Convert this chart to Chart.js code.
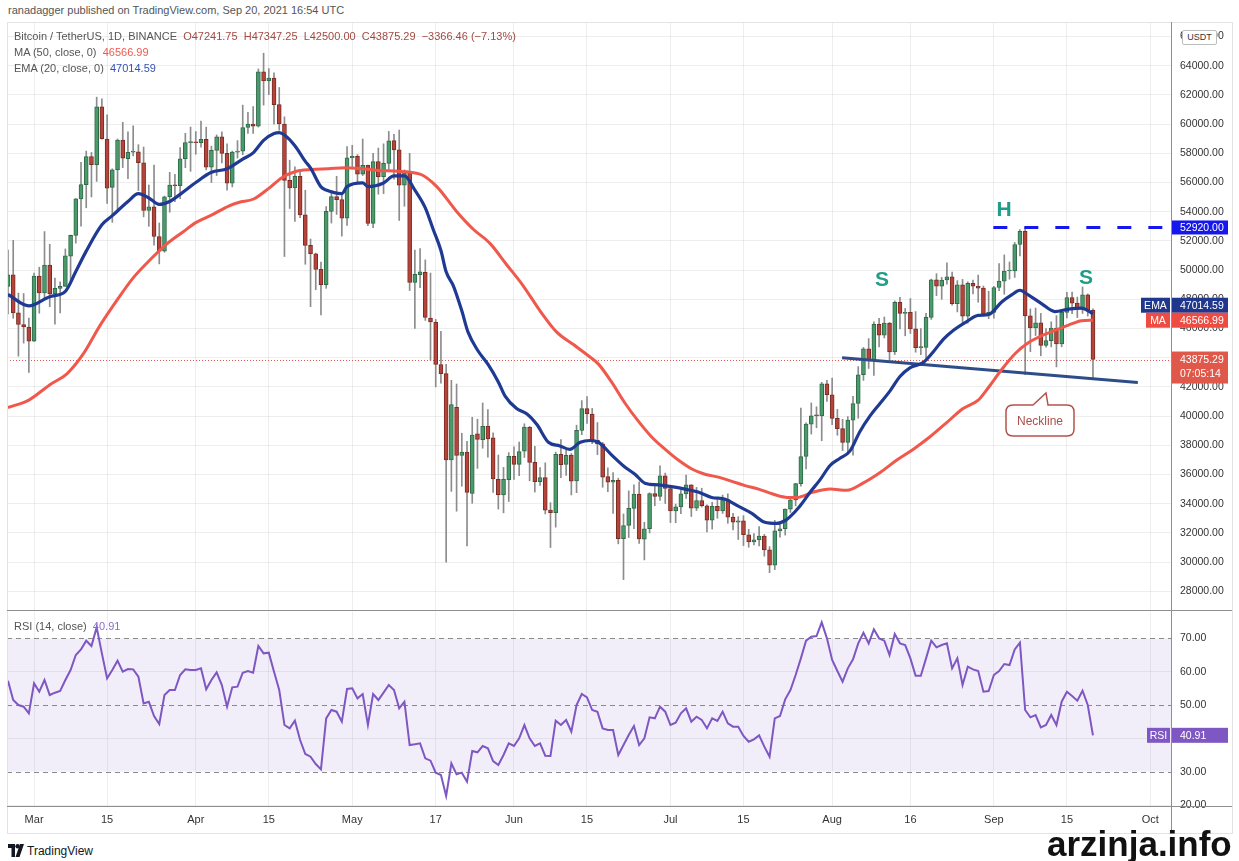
<!DOCTYPE html>
<html>
<head>
<meta charset="utf-8">
<title>BTCUSDT 1D</title>
<script src="https://cdn.jsdelivr.net/npm/chart.js@4.4.1/dist/chart.umd.min.js"></script>
<style>
  html, body { margin: 0; padding: 0; background: #fff; }
  body { width: 1239px; height: 861px; position: relative; overflow: hidden;
         font-family: 'Liberation Sans', Arial, sans-serif; }
  canvas { position: absolute; left: 0; }
  #main { top: 22px; }
  #rsi { top: 610px; }
  .t { position: absolute; white-space: nowrap; line-height: 1; }
  .ln { position: absolute; background: #8f8f8f; }
  .mark { position: absolute; font-weight: bold; font-size: 21px; color: #1f9d88;
          transform: translate(-50%, -50%); line-height: 1; }
</style>
</head>
<body>
<div class="t" style="left:8px;top:5px;font-size:11px;color:#555">ranadagger published on TradingView.com, Sep 20, 2021 16:54 UTC</div>

<canvas id="main" width="1239" height="588"></canvas>
<canvas id="rsi" width="1239" height="225"></canvas>

<div style="position:absolute;left:7px;top:22px;width:1224px;height:810px;border:1px solid #e3e3e3;pointer-events:none"></div>
<div class="ln" style="left:1171px;top:22px;width:1px;height:811px"></div>
<div class="ln" style="left:7px;top:610px;width:1225px;height:1px"></div>
<div class="ln" style="left:7px;top:806px;width:1225px;height:1px"></div>

<div class="t" id="legend1" style="left:14px;top:31px;font-size:11px;color:#555"></div>
<div class="t" id="legend2" style="left:14px;top:47px;font-size:11px;color:#555"></div>
<div class="t" id="legend3" style="left:14px;top:63px;font-size:11px;color:#555"></div>
<div class="t" id="legend4" style="left:14px;top:621px;font-size:11px;color:#555"></div>

<div class="t" style="left:1182px;top:30px;width:33px;height:13px;border:1px solid #bdbdbd;border-radius:2px;background:#fff;font-size:9px;line-height:13px;text-align:center;color:#333">USDT</div>

<div class="mark" style="left:882px;top:278px">S</div>
<div class="mark" style="left:1004px;top:208px">H</div>
<div class="mark" style="left:1086px;top:276px">S</div>

<svg style="position:absolute;left:1000px;top:388px" width="82" height="52">
  <path d="M13 17 L33 17 L46 5 L48 17 L67 17 Q74 17 74 24 L74 41 Q74 48 67 48 L13 48 Q6 48 6 41 L6 24 Q6 17 13 17 Z"
        fill="#fff" stroke="#b5524c" stroke-width="1.5"/>
  <text x="40" y="37" text-anchor="middle" font-family="Liberation Sans, Arial, sans-serif" font-size="12" fill="#a8504a">Neckline</text>
</svg>

<svg style="position:absolute;left:8px;top:844px" width="16" height="13" viewBox="0 0 16 13">
  <path d="M0 0 H7 V13 H3.5 V4 H0 Z" fill="#131722"/>
  <circle cx="9.6" cy="2.2" r="2.2" fill="#131722"/>
  <path d="M12 0 H16 L11.5 13 H7.5 Z" fill="#131722"/>
</svg>
<div class="t" style="left:27px;top:845px;font-size:12px;color:#131722">TradingView</div>
<div class="t" style="left:1047px;top:826px;font-size:35px;font-weight:bold;color:#111">arzinja.info</div>

<script>
// ---- data (BTC/USDT daily, Binance), day 0 = 24 Feb 2021 ----
const opens = [
  48891, 49676, 47073, 46276, 46106, 45136, 49587, 48441, 50350, 48374, 48746, 48882, 50959, 52376, 54874, 55851, 57773, 57221, 61188, 58969,
  55664, 56873, 58912, 57641, 58077, 58100, 57351, 54083, 54342, 52303, 51293, 55025, 55817, 55782, 57628, 58730, 58740, 58720, 58950, 57052,
  58202, 59130, 57990, 55953, 58077, 58142, 59770, 60007, 59861, 63576, 62959, 63159, 61334, 60006, 56150, 55634, 56425, 53787, 51691, 51111,
  50047, 49005, 54022, 55033, 54824, 53555, 57697, 57797, 56578, 57169, 53205, 57436, 56393, 57315, 58866, 58240, 55816, 56670, 49150, 49682,
  49855, 46716, 46415, 43538, 42909, 37002, 40596, 37304, 37531, 34700, 38795, 38392, 39316, 38507, 35663, 34605, 35641, 37253, 36694, 37599,
  39242, 36840, 35515, 35796, 33556, 33380, 37389, 36697, 37340, 35555, 39020, 40516, 40143, 38349, 38099, 35854, 35483, 35601, 31614, 32510,
  33676, 34663, 31576, 32283, 34702, 34494, 35911, 35045, 33502, 33786, 34669, 35288, 33690, 34220, 33862, 32875, 33824, 33515, 34259, 33086,
  32729, 32820, 31874, 31384, 31520, 31779, 30839, 29790, 32144, 32287, 33635, 34261, 35381, 37241, 39456, 40019, 40018, 42207, 41461, 39850,
  39146, 38207, 39723, 40862, 42836, 44614, 43794, 46280, 45543, 46365, 44400, 47800, 47040, 47112, 45978, 44695, 44700, 46760, 49339, 48905,
  49321, 49546, 47707, 48993, 46852, 49088, 48895, 48767, 46970, 47100, 48810, 49247, 49942, 49945, 51754, 52664, 46863, 46049, 46396, 44843,
  45174, 46026, 44941, 47104, 48121, 47737, 47300, 48307, 47241.75
];
const highs = [
  51374, 52041, 48424, 48394, 46716, 49790, 50200, 52640, 51773, 49448, 49200, 51450, 52402, 54900, 57387, 58150, 58058, 61844, 61724, 60633,
  56939, 58982, 60129, 59468, 59880, 58590, 58430, 55830, 57200, 53230, 55073, 56700, 56559, 58400, 59368, 59800, 59490, 60200, 59791, 58492,
  59257, 59474, 58650, 58153, 58869, 61300, 60800, 61199, 63777, 64854, 63800, 63520, 62506, 60499, 57526, 57076, 56757, 55469, 52129, 51166,
  50554, 54356, 55460, 56428, 55196, 58458, 58550, 57911, 58973, 57200, 58000, 58360, 58650, 59500, 59300, 59592, 56862, 58000, 51367, 51483,
  50700, 49800, 46622, 45800, 43546, 42451, 42200, 38829, 38270, 39920, 39791, 40900, 40440, 38856, 37338, 36488, 37499, 37894, 38225, 39476,
  39290, 37925, 36480, 36801, 34071, 37534, 38400, 37680, 37440, 39380, 41064, 41330, 40527, 39560, 38200, 36457, 36137, 35750, 33298, 34881,
  35298, 35500, 32730, 34749, 35297, 36600, 36100, 35057, 33977, 34945, 35967, 35293, 35118, 35059, 33917, 34100, 34259, 34592, 34679, 33340,
  33114, 33185, 32249, 31949, 32435, 31899, 31063, 32858, 32591, 33650, 34500, 35398, 40550, 39542, 40900, 40640, 42316, 42448, 42599, 40459,
  39780, 39969, 41350, 43392, 44700, 45310, 46454, 46700, 46789, 46416, 47886, 48144, 47372, 48053, 47160, 46000, 47033, 49382, 49757, 49500,
  50500, 49870, 49278, 49365, 49199, 49310, 49658, 48908, 48552, 48885, 50450, 51042, 50558, 51894, 52780, 52920, 47340, 47400, 47033, 45987,
  46460, 46880, 47250, 48470, 48500, 48150, 48843, 48372, 47347.25
];
const lows = [
  47003, 46700, 44106, 45000, 43000, 45115, 47047, 48100, 47500, 46300, 47070, 48882, 49274, 51845, 53005, 54269, 55013, 56078, 58966, 54568,
  53271, 54123, 57023, 56270, 57820, 55450, 53650, 53000, 51700, 50427, 51225, 53966, 54691, 54892, 57012, 56769, 57935, 58428, 56865, 56000,
  56478, 57333, 55473, 55700, 57670, 57902, 59360, 59369, 59800, 61301, 62020, 60000, 59580, 50931, 54221, 53329, 53596, 50400, 47500, 48657,
  46930, 48753, 53222, 53813, 52330, 53068, 57050, 56035, 56478, 53046, 52900, 55200, 55241, 56900, 56235, 53400, 54370, 48600, 46000, 48800,
  46555, 43825, 42001, 42250, 30000, 34850, 33488, 35200, 31111, 34031, 36419, 37800, 37191, 34779, 33632, 33379, 34153, 35666, 35920, 37170,
  35567, 34800, 35258, 33300, 31000, 32397, 35785, 35936, 34600, 34757, 38730, 39506, 38116, 37365, 35129, 34833, 33336, 31251, 28805, 31683,
  32286, 31275, 30151, 32000, 33862, 34225, 34017, 32711, 32699, 33316, 34357, 33125, 33532, 33777, 32077, 32261, 33004, 33333, 32658, 32202,
  31550, 31133, 31020, 31179, 31108, 30408, 29278, 29482, 31708, 31851, 33401, 33851, 35205, 36383, 38772, 39200, 38313, 41000, 39422, 38690,
  37642, 37508, 37332, 39853, 42446, 43261, 42779, 44742, 45351, 43770, 44217, 45971, 45500, 45660, 44376, 44203, 43955, 46622, 48255, 48000,
  49030, 47600, 47136, 46315, 46366, 48372, 47800, 46858, 46680, 46700, 48584, 48349, 49379, 49500, 50969, 42843, 44412, 45514, 44132, 44723,
  44743, 43370, 44750, 46719, 47020, 46750, 47034, 46850, 42500
];
const closes = [
  49676, 47073, 46276, 46106, 45136, 49587, 48441, 50350, 48374, 48751, 48882, 50971, 52375, 54884, 55851, 57773, 57221, 61188, 59000, 55605,
  56873, 58913, 57665, 58075, 58107, 57351, 54083, 54341, 52303, 51293, 55025, 55817, 55777, 57628, 58730, 58741, 58720, 58950, 57051, 58202,
  59129, 57991, 55953, 58077, 58142, 59770, 60007, 59860, 63576, 62960, 63159, 61334, 60006, 56150, 55633, 56425, 53787, 51690, 51125, 50047,
  49004, 54022, 55033, 54824, 53555, 57697, 57797, 56578, 57169, 53200, 57436, 56393, 57314, 58862, 58240, 55816, 56670, 49150, 49716, 49880,
  46760, 46456, 43538, 42909, 37002, 40782, 37305, 37536, 34770, 38705, 38402, 39294, 38436, 35697, 34616, 35678, 37253, 36693, 37568, 39246,
  36829, 35513, 35796, 33552, 33380, 37388, 36675, 37313, 35546, 39020, 40516, 40144, 38349, 38092, 35820, 35484, 35600, 31608, 32509, 33678,
  34663, 31594, 32283, 34700, 34494, 35911, 35045, 33504, 33786, 34669, 35286, 33690, 34220, 33863, 32875, 33815, 33502, 34258, 33086, 32729,
  32820, 31880, 31383, 31520, 31778, 30839, 29790, 32144, 32287, 33635, 34258, 35381, 37237, 39457, 40019, 40016, 42206, 41461, 39845, 39147,
  38207, 39723, 40862, 42836, 44614, 43792, 46285, 45543, 46365, 44400, 47800, 47040, 47112, 45978, 44696, 44705, 46761, 49339, 48905, 49321,
  49546, 47707, 48993, 46852, 49089, 48895, 48767, 46971, 47100, 48810, 49246, 49941, 49944, 51753, 52663, 46863, 46048, 46395, 44850, 45174,
  46026, 44940, 47111, 48121, 47737, 47300, 48314, 47241.75, 43875.29
];

// moving averages (day, value)
const emaDays = [0, 4, 8, 11, 13, 15, 18, 20, 23, 25, 27, 29, 31, 33, 36, 39, 42, 45, 47, 49, 51, 52, 53, 55, 57, 58, 60, 61, 64, 65,
  68, 69, 72, 74, 76, 78, 80, 81.5, 83, 84, 85.4, 87, 88.2, 90, 92, 94, 95.3, 97.5, 99.5, 101.4, 103.6, 105.8, 107.7, 109.7, 111.6,
  113.2, 115.7, 118.3, 120.2, 122.1, 124.7, 127.2, 129.8, 132.3, 134.9, 137.5, 140, 142.6, 145.1, 147.4, 149, 149.9, 151.8, 153.8,
  155.7, 157.6, 159.5, 161.4, 163.3, 165.3, 167.2, 169.1, 171, 172.9, 175.5, 177.4, 179.3, 181.2, 183.8, 186, 188, 190.5, 192.4,
  194, 195.6, 198.2, 200.7, 203.3, 205.8, 208];
const emaValues = [48330, 47550, 48180, 48550, 49900, 51300, 53100, 53730, 54700, 55240, 54940, 54500, 54700, 55190, 56000, 56700,
  56940, 57600, 58030, 58890, 59350, 59420, 59250, 58520, 57450, 57000, 55700, 55480, 55240, 55720, 55970, 55720, 55970, 56450,
  56450, 55480, 54260, 52800, 51340, 49880, 48910, 47210, 45750, 44530, 43560, 42340, 41370, 40520, 40150, 39420, 38210, 37960,
  37720, 38210, 38330, 38210, 37350, 36500, 36020, 35410, 35290, 35170, 35000, 34800, 34430, 34310, 33830, 33340, 32730, 32650,
  32850, 33100, 33830, 34800, 35650, 36620, 37110, 37600, 38930, 40030, 40880, 41730, 42710, 43310, 43680, 44410, 45260, 45870,
  46480, 46900, 46960, 47820, 48300, 48620, 48300, 47690, 47160, 47330, 47400, 47014.59];

const maDays = [0, 3.9, 8.1, 11.3, 14.4, 17.6, 20.8, 24, 27.2, 30.4, 33.6, 36, 39.1, 42.3, 44.2, 47.1, 50, 52.5, 55, 58.2, 61.4,
  64.6, 67.8, 71, 74.2, 79, 82.2, 86, 89.2, 92.4, 95.6, 98.8, 102, 105.2, 108.4, 111, 113.2, 115.7, 118.3, 120.8, 123.4, 126,
  128.5, 131.1, 133.6, 136.2, 138.8, 141.3, 143.9, 146.5, 149, 151.2, 154.4, 157.6, 160.8, 163.9, 167.2, 170.4, 173.5, 176.7,
  179.9, 183.1, 186, 188, 190.5, 193.1, 195.6, 198.2, 200.7, 203.3, 205.8, 208];
const maValues = [40590, 41080, 42170, 42900, 44240, 46180, 47890, 49470, 50690, 51780, 52630, 53250, 53780, 54390, 54630, 54870,
  55600, 56330, 56740, 56890, 56940, 57010, 56940, 56820, 56780, 56570, 55720, 54020, 52800, 51830, 50370, 48910, 47210, 45750,
  44900, 44200, 43560, 42340, 40880, 39670, 38570, 37720, 36990, 36380, 36020, 35820, 35530, 35240, 35000, 34680, 34450, 34430,
  34800, 35000, 34920, 35410, 36140, 36990, 37720, 38570, 39540, 40520, 41100, 41980, 43190, 44290, 45020, 45510, 45870, 46230,
  46530, 46566.99];

const rsiValues = [
  57.3, 51.5, 50, 49.5, 47.5, 56.5, 54, 57.5, 53, 53.7, 54.2, 57.5, 60.5, 65, 66.7, 69.3, 67.7, 73.3, 65.5, 58,
  60.5, 63.3, 60, 60.8, 60.7, 58.5, 50.5, 51, 46.7, 44.3, 53, 54.5, 54.5, 59, 60.7, 60.5, 60.5, 61, 54.7, 57.5,
  59.8, 56, 49.5, 55.3, 55.5, 59.7, 60.2, 59.7, 67.7, 65.5, 65.7, 60, 54.5, 44, 43, 45.3, 39.5, 35.3, 34.5, 32.3,
  30.7, 46, 48.5, 48, 45, 54.8, 55, 52, 53.3, 44, 53.3, 51.5, 53.7, 56, 54.5, 49, 51, 38, 38.2, 38.5,
  34, 33.3, 29.7, 29, 22.7, 32.5, 29.2, 29.7, 27, 36.2, 35.8, 37.7, 37, 33.2, 32, 35, 38.5, 37.7, 40, 44,
  40, 37.7, 38.5, 34.8, 34.7, 45.3, 44, 45.5, 42, 50, 53.3, 52.3, 48.5, 48, 43, 42.5, 42.5, 35, 38, 41,
  43.7, 38, 40, 46.3, 46, 49.5, 48, 44, 44.7, 47.5, 49, 45, 46.5, 45.5, 43, 46, 45.2, 48, 44.5, 43.5,
  43.5, 40.7, 39, 39.7, 40.9, 37.5, 34.5, 46, 46.7, 51.7, 54.5, 59, 64, 69.3, 70.5, 70.7, 74.8, 70, 63.5, 60.2,
  57, 61, 63.7, 68.5, 71.7, 68.5, 72.7, 70, 69.3, 65, 71.3, 68.5, 68, 64, 58.8, 58.8, 64, 69.3, 67.3, 68,
  68.5, 61, 64, 56, 61.5, 60.7, 60.2, 54, 54.2, 59, 60.2, 62.3, 62, 66.7, 68.7, 48.5, 46.3, 47, 43.3, 44,
  47, 44, 51, 54, 52.7, 51.3, 54.3, 50, 40.91
];

// drawn pattern lines
const neckDays = [159.9, 216.6];
const neckValues = [44000, 42300];
const headLevel = 52920;
const headFromDay = 188.9;

// axis ticks
const priceTicks = [28000, 30000, 32000, 34000, 36000, 38000, 40000, 42000, 44000, 46000, 48000, 50000,
  52000, 54000, 56000, 58000, 60000, 62000, 64000, 66000];
const rsiTicks = [20, 30, 40, 50, 60, 70];
const rsiLevels = [70, 50, 30];
const tickDays = [5, 19, 36, 50, 66, 82, 97, 111, 127, 141, 158, 173, 189, 203, 219];
const tickLabels = ['Mar', '15', 'Apr', '15', 'May', '17', 'Jun', '15', 'Jul', '15', 'Aug', '16', 'Sep', '15', 'Oct'];

// ---- look ----
const FONT = "'Liberation Sans', Arial, sans-serif";
const X_MIN = -0.19, X_MAX = 222.96;
const AXIS_W = 68;
const UP = '#4a9a6b', UP_EDGE = '#2f6b49', DOWN = '#b5453a', DOWN_EDGE = '#7a2b24', WICK = '#8c8c8c';
const EMA_COL = '#1f3a93', MA_COL = '#f0584c', RSI_COL = '#7e57c2';
const GRID = 'rgba(0,0,0,0.065)';

const last = closes.length - 1;
const lastClose = closes[last];
const change = lastClose - closes[last - 1];

function fmt(v) { return v.toFixed(2); }

document.getElementById('legend1').innerHTML =
  'Bitcoin / TetherUS, 1D, BINANCE&nbsp;&nbsp;<span style="color:#a24a42">O' + fmt(opens[last]) +
  '&nbsp; H' + fmt(highs[last]) + '&nbsp; L' + fmt(lows[last]) + '&nbsp; C' + fmt(lastClose) +
  '&nbsp; \u2212' + fmt(Math.abs(change)) + ' (\u2212' + (Math.abs(change) / closes[last - 1] * 100).toFixed(2) + '%)</span>';
document.getElementById('legend2').innerHTML =
  'MA (50, close, 0)&nbsp; <span style="color:' + MA_COL + '">' + fmt(maValues[maValues.length - 1]) + '</span>';
document.getElementById('legend3').innerHTML =
  'EMA (20, close, 0)&nbsp; <span style="color:#3453b0">' + fmt(emaValues[emaValues.length - 1]) + '</span>';
document.getElementById('legend4').innerHTML =
  'RSI (14, close)&nbsp; <span style="color:#8e6cc8">' + fmt(rsiValues[rsiValues.length - 1]) + '</span>';

const days = closes.map(function (_, k) { return k; });
const bodyFill = closes.map(function (c, k) { return c >= opens[k] ? UP : DOWN; });
const bodyEdge = closes.map(function (c, k) { return c >= opens[k] ? UP_EDGE : DOWN_EDGE; });

function pairs(xs, ys) {
  return xs.map(function (x, k) { return { x: x, y: ys[k] }; });
}

function tag(ctx, x0, yc, h, bg, lines, label, labelW) {
  ctx.save();
  ctx.fillStyle = bg;
  ctx.fillRect(x0, yc - h / 2, 57, h);
  ctx.font = '10.5px ' + FONT;
  ctx.textBaseline = 'middle';
  if (label) {
    ctx.fillRect(x0 - labelW - 1, yc - h / 2, labelW, h);
    ctx.fillStyle = '#fff';
    ctx.textAlign = 'center';
    ctx.fillText(label, x0 - 1 - labelW / 2, yc + 0.5);
  }
  ctx.fillStyle = '#fff';
  ctx.textAlign = 'left';
  if (lines.length === 1) {
    ctx.fillText(lines[0], x0 + 9, yc + 0.5);
  } else {
    ctx.fillText(lines[0], x0 + 9, yc - h / 2 + 8.5);
    ctx.fillText(lines[1], x0 + 9, yc - h / 2 + 22.5);
  }
  ctx.restore();
}

const mainOverlay = {
  id: 'mainOverlay',
  beforeDatasetsDraw(chart) {
    const ctx = chart.ctx, a = chart.chartArea;
    const y = Math.round(chart.scales.y.getPixelForValue(lastClose)) + 0.5;
    ctx.save();
    ctx.strokeStyle = '#e0584c';
    ctx.lineWidth = 1;
    ctx.setLineDash([1, 2]);
    ctx.beginPath();
    ctx.moveTo(a.left, y);
    ctx.lineTo(a.right, y);
    ctx.stroke();
    ctx.restore();
  },
  afterDraw(chart) {
    const ctx = chart.ctx, ys = chart.scales.y, x0 = chart.chartArea.right;
    const maY = ys.getPixelForValue(maValues[maValues.length - 1]);
    const emaY = Math.min(ys.getPixelForValue(emaValues[emaValues.length - 1]), maY - 15);
    tag(ctx, x0, ys.getPixelForValue(headLevel), 14, '#1616ee', [fmt(headLevel)]);
    tag(ctx, x0, emaY, 15, '#1f378c', [fmt(emaValues[emaValues.length - 1])], 'EMA', 29);
    tag(ctx, x0, maY, 15, '#ee4c43', [fmt(maValues[maValues.length - 1])], 'MA', 24);
    const py = ys.getPixelForValue(lastClose);
    tag(ctx, x0, py + 8, 32, '#e0584a', [fmt(lastClose), '07:05:14']);
  }
};

const rsiOverlay = {
  id: 'rsiOverlay',
  beforeDatasetsDraw(chart) {
    const ctx = chart.ctx, a = chart.chartArea, ys = chart.scales.y;
    const y70 = ys.getPixelForValue(70), y30 = ys.getPixelForValue(30);
    ctx.save();
    ctx.fillStyle = 'rgba(126,87,194,0.1)';
    ctx.fillRect(a.left, y70, a.right - a.left, y30 - y70);
    ctx.strokeStyle = '#8a8a8a';
    ctx.lineWidth = 1;
    ctx.setLineDash([5, 4]);
    rsiLevels.forEach(function (v) {
      const y = Math.round(ys.getPixelForValue(v)) + 0.5;
      ctx.beginPath();
      ctx.moveTo(a.left, y);
      ctx.lineTo(a.right, y);
      ctx.stroke();
    });
    ctx.restore();
  },
  afterDraw(chart) {
    const ys = chart.scales.y;
    tag(chart.ctx, chart.chartArea.right, ys.getPixelForValue(rsiValues[rsiValues.length - 1]), 15,
      RSI_COL, [fmt(rsiValues[rsiValues.length - 1])], 'RSI', 23);
  }
};

function ticksFrom(list) {
  return function (scale) {
    scale.ticks = list.map(function (v) { return { value: v }; });
  };
}

new Chart(document.getElementById('main'), {
  type: 'bar',
  data: {
    datasets: [
      { type: 'line', data: pairs(emaDays, emaValues), borderColor: EMA_COL, borderWidth: 3.2,
        pointRadius: 0, cubicInterpolationMode: 'monotone', order: 0 },
      { type: 'line', data: pairs(maDays, maValues), borderColor: MA_COL, borderWidth: 3,
        pointRadius: 0, cubicInterpolationMode: 'monotone', order: 0 },
      { type: 'line', data: pairs(neckDays, neckValues), borderColor: '#2e4d88', borderWidth: 3,
        pointRadius: 0, order: 0 },
      { type: 'line', data: pairs([headFromDay, X_MAX], [headLevel, headLevel]), borderColor: '#1616ee',
        borderWidth: 3, borderDash: [14, 17], pointRadius: 0, order: 0 },
      { data: pairs(days, opens.map(function (o, k) { return [o, closes[k]]; })),
        backgroundColor: bodyFill, borderColor: bodyEdge, borderWidth: 1, borderSkipped: false,
        barThickness: 4, minBarLength: 1, grouped: false, order: 1 },
      { data: pairs(days, lows.map(function (l, k) { return [l, highs[k]]; })),
        backgroundColor: WICK, barThickness: 1, grouped: false, order: 2 }
    ]
  },
  options: {
    responsive: false,
    animation: false,
    events: [],
    layout: { padding: { left: 7, right: 0, top: 0, bottom: 0 } },
    plugins: { legend: { display: false }, tooltip: { enabled: false } },
    scales: {
      x: {
        type: 'linear', min: X_MIN, max: X_MAX, offset: false,
        afterBuildTicks: ticksFrom(tickDays),
        afterFit: function (s) { s.height = 0; s.paddingLeft = 0; s.paddingRight = 0; },
        ticks: { display: false },
        grid: { color: GRID, drawTicks: false, offset: false },
        border: { display: false }
      },
      y: {
        position: 'right', min: 26721, max: 66993,
        afterBuildTicks: ticksFrom(priceTicks),
        afterFit: function (s) { s.width = AXIS_W; s.paddingTop = 0; s.paddingBottom = 0; },
        ticks: { padding: 9, color: '#333',
                 font: { family: FONT, size: 10.5 }, callback: function (v) { return fmt(v); } },
        grid: { color: GRID, drawTicks: false },
        border: { display: false }
      }
    }
  },
  plugins: [mainOverlay]
});

new Chart(document.getElementById('rsi'), {
  type: 'line',
  data: {
    datasets: [
      { data: pairs(days, rsiValues), borderColor: RSI_COL, borderWidth: 2, pointRadius: 0, tension: 0 }
    ]
  },
  options: {
    responsive: false,
    animation: false,
    events: [],
    layout: { padding: { left: 7, right: 0, top: 1.7, bottom: 0 } },
    plugins: { legend: { display: false }, tooltip: { enabled: false } },
    scales: {
      x: {
        type: 'linear', min: X_MIN, max: X_MAX, offset: false,
        afterBuildTicks: ticksFrom(tickDays),
        afterFit: function (s) { s.height = 29; s.paddingLeft = 0; s.paddingRight = 0; },
        ticks: { autoSkip: false, maxRotation: 0, padding: 7, color: '#333',
                 font: { family: FONT, size: 11 },
                 callback: function (v) { const k = tickDays.indexOf(v); return k < 0 ? '' : tickLabels[k]; } },
        grid: { color: GRID, drawTicks: false },
        border: { display: false }
      },
      y: {
        position: 'right', min: 19.7, max: 78,
        afterBuildTicks: ticksFrom(rsiTicks),
        afterFit: function (s) { s.width = AXIS_W; s.paddingTop = 0; s.paddingBottom = 0; },
        ticks: { padding: 9, color: '#333',
                 font: { family: FONT, size: 10.5 }, callback: function (v) { return fmt(v); } },
        grid: {
          drawTicks: false,
          color: function (c) { return rsiLevels.indexOf(c.tick && c.tick.value) >= 0 ? 'rgba(0,0,0,0)' : GRID; }
        },
        border: { display: false }
      }
    }
  },
  plugins: [rsiOverlay]
});
</script>
</body>
</html>
